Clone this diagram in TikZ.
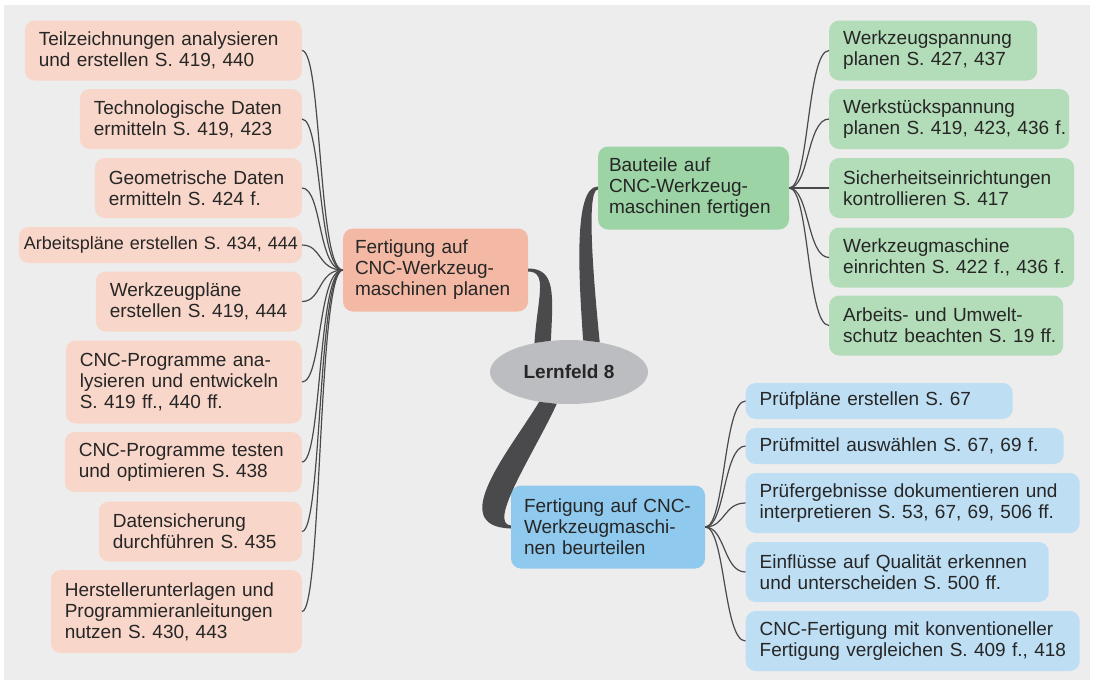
\documentclass[tikz,border=0pt]{standalone}
\usepackage{fontspec}
\setmainfont{Liberation Sans}
\usetikzlibrary{shapes.geometric}
\definecolor{bggray}{HTML}{EDEDED}
\definecolor{planleaf}{HTML}{F8D6C9}
\definecolor{planmain}{HTML}{F3B9A5}
\definecolor{fertleaf}{HTML}{B3DDB8}
\definecolor{fertmain}{HTML}{9CD4A6}
\definecolor{beurtleaf}{HTML}{BEDEF4}
\definecolor{beurtmain}{HTML}{90C9EE}
\definecolor{lfgray}{HTML}{BCBDC1}
\definecolor{branchgray}{HTML}{4A4A4C}
\definecolor{txt}{HTML}{262626}
\hyphenpenalty=10000

\begin{document}
\begin{tikzpicture}[x=1pt,y=-1pt,
   every node/.style={font=\fontsize{19}{21}\selectfont, text=txt},
   box/.style={rounded corners=10pt, align=left, inner xsep=14pt, inner ysep=0pt,
      execute at begin node={\rightskip=0pt plus 1fil minus 100pt\linepenalty=100 }},
   oneline/.style={minimum height=36pt},
   twoline/.style={minimum height=60pt},
   threeline/.style={minimum height=83pt},
   conn/.style={draw=branchgray, line width=1.2pt},
   twigl/.style={to path={.. controls +(-25,0) and +(20,0) .. (\tikztotarget)}},
   twigr/.style={to path={.. controls +(20,0) and +(-22,0) .. (\tikztotarget)}},
   branch/.style={fill=branchgray}]
   \useasboundingbox (0,0) rectangle (1095,681);
   \fill[bggray] (4,5) rectangle (1090,680);

   \node[box, fill=planleaf, twoline, text width=249pt, anchor=east] (plan_1) at (302,50.5) {Teilzeichnungen analysieren\\und erstellen S. 419, 440};
   \node[box, fill=planleaf, twoline, text width=194pt, anchor=east] (plan_2) at (302,119) {Technologische Daten\\ermitteln S. 419, 423};
   \node[box, fill=planleaf, twoline, text width=179pt, anchor=east] (plan_3) at (302,188) {Geometrische Daten\\ermitteln S. 424 f.};
   \node[box, fill=planleaf, oneline, inner xsep=5pt, text width=273pt, anchor=east, font=\fontsize{18}{21}\selectfont] (plan_4) at (302,245) {Arbeitspläne erstellen S. 434, 444};
   \node[box, fill=planleaf, twoline, text width=178pt, anchor=east] (plan_5) at (302,301.5) {Werkzeugpläne\\erstellen S. 419, 444};
   \node[box, fill=planleaf, threeline, text width=208pt, anchor=east] (plan_6) at (302,382) {CNC-Programme ana-\\lysieren und entwickeln\\S. 419 ff., 440 ff.};
   \node[box, fill=planleaf, twoline, text width=209pt, anchor=east] (plan_7) at (302,462) {CNC-Programme testen\\und optimieren S. 438};
   \node[box, fill=planleaf, twoline, text width=175pt, anchor=east] (plan_8) at (302,531.5) {Datensicherung\\durchführen S. 435};
   \node[box, fill=planleaf, threeline, text width=223pt, anchor=east] (plan_9) at (302,611.5) {Herstellerunterlagen und\\Programmieranleitungen\\nutzen S. 430, 443};
   \node[box, fill=planmain, threeline, inner xsep=12pt, text width=161pt] (plan) at (435.5,270) {Fertigung auf\\CNC-Werkzeug-\\maschinen planen};

   \node[box, fill=fertmain, threeline, inner xsep=11pt, text width=169pt] (fert) at (693.5,188) {Bauteile auf\\CNC-Werkzeug-\\maschinen fertigen};
   \node[box, fill=fertleaf, twoline, text width=180pt, anchor=west] (fert_1) at (829,50.5) {Werkzeugspannung\\planen S. 427, 437};
   \node[box, fill=fertleaf, twoline, text width=212pt, anchor=west] (fert_2) at (829,119) {Werkstückspannung\\planen S. 419, 423, 436 f.};
   \node[box, fill=fertleaf, twoline, text width=217pt, anchor=west] (fert_3) at (829,188) {Sicherheitseinrichtungen\\kontrollieren S. 417};
   \node[box, fill=fertleaf, twoline, text width=217pt, anchor=west] (fert_4) at (829,257.5) {Werkzeugmaschine\\einrichten S. 422 f., 436 f.};
   \node[box, fill=fertleaf, twoline, text width=206pt, anchor=west] (fert_5) at (829,325.5) {Arbeits- und Umwelt-\\schutz beachten S. 19 ff.};

   \node[box, fill=beurtmain, threeline, inner xsep=13pt, text width=168pt] (beurt) at (608,527) {Fertigung auf CNC-\\Werkzeugmaschi-\\nen beurteilen};
   \node[box, fill=beurtleaf, oneline, text width=239pt, anchor=west] (beurt_1) at (745.5,401) {Prüfpläne erstellen S. 67};
   \node[box, fill=beurtleaf, oneline, text width=290pt, anchor=west] (beurt_2) at (745.5,446) {Prüfmittel auswählen S. 67, 69 f.};
   \node[box, fill=beurtleaf, twoline, text width=306pt, anchor=west] (beurt_3) at (745.5,503) {Prüfergebnisse dokumentieren und\\interpretieren S. 53, 67, 69, 506 ff.};
   \node[box, fill=beurtleaf, twoline, text width=275pt, anchor=west] (beurt_4) at (745.5,572) {Einflüsse auf Qualität erkennen\\und unterscheiden S. 500 ff.};
   \node[box, fill=beurtleaf, twoline, text width=306pt, anchor=west] (beurt_5) at (745.5,641) {CNC-Fertigung mit konventioneller\\Fertigung vergleichen S. 409 f., 418};

   \node[ellipse, fill=lfgray, minimum width=158pt, minimum height=64pt, inner sep=0pt, font=\fontsize{19}{21}\selectfont\bfseries] (lf) at (569,372) {Lernfeld 8};

   \fill[branch] ([yshift=1.5pt]plan.east) .. controls +(28,0) and +(2,-45) .. (lf.120)
      -- (lf.140) .. controls +(3,-45) and +(20,0) .. ([yshift=-1.5pt]plan.east) -- cycle;
   \fill[branch] ([yshift=1.5pt]fert.west) .. controls +(-25,0) and +(-4,-60) .. (lf.66)
      -- (lf.44) .. controls +(-6,-60) and +(-12,0) .. ([yshift=-1.5pt]fert.west) -- cycle;
   \fill[branch] (lf.225) .. controls +(-29,48) and +(-66,-2) .. ([yshift=-1.5pt]beurt.west)
      -- ([yshift=1.5pt]beurt.west) .. controls +(-24,-2) and +(-22,48) .. (lf.249) -- cycle;

   \path[conn] (plan.west) edge[twigl] (plan_1.east)
      (plan.west) edge[twigl] (plan_2.east)
      (plan.west) edge[twigl] (plan_3.east)
      (plan.west) edge[twigl] (plan_4.east)
      (plan.west) edge[twigl] (plan_5.east)
      (plan.west) edge[twigl] (plan_6.east)
      (plan.west) edge[twigl] (plan_7.east)
      (plan.west) edge[twigl] (plan_8.east)
      (plan.west) edge[twigl] (plan_9.east);
   \path[conn] (fert.east) edge[twigr] (fert_1.west)
      (fert.east) edge[twigr] (fert_2.west)
      (fert.east) edge[twigr] (fert_3.west)
      (fert.east) edge[twigr] (fert_4.west)
      (fert.east) edge[twigr] (fert_5.west);
   \path[conn] (beurt.east) edge[twigr] (beurt_1.west)
      (beurt.east) edge[twigr] (beurt_2.west)
      (beurt.east) edge[twigr] (beurt_3.west)
      (beurt.east) edge[twigr] (beurt_4.west)
      (beurt.east) edge[twigr] (beurt_5.west);
\end{tikzpicture}
\end{document}
